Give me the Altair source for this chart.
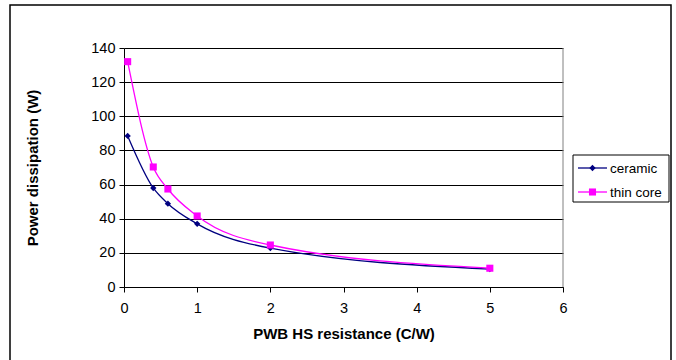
import altair as alt
import pandas as pd

# data
x_vals = [0.05, 0.4, 0.6, 1, 2, 5]
ceramic = [88.5, 58, 48.8, 37, 22.8, 10.5]
thin_core = [132, 70.3, 57.4, 41.6, 24.6, 11]
series_names = ["ceramic", "thin core"]
series_colors = ["#000080", "#FF00FF"]
series_shapes = ["diamond", "square"]
x_ticks = [0, 1, 2, 3, 4, 5, 6]
y_ticks = [0, 20, 40, 60, 80, 100, 120, 140]

rows = []
for name, vals in zip(series_names, [ceramic, thin_core]):
    for xv, yv in zip(x_vals, vals):
        rows.append({"x": xv, "y": yv, "series": name})
df = pd.DataFrame(rows)

W, H = 439, 239
FONT = "Liberation Sans"

xscale = alt.Scale(domain=[0, 6], nice=False, zero=False)
yscale = alt.Scale(domain=[0, 140], nice=False)
color_scale = alt.Scale(domain=series_names, range=series_colors)
shape_scale = alt.Scale(domain=series_names, range=series_shapes)

xaxis = alt.Axis(values=x_ticks, format="d", title="PWB HS resistance (C/W)", grid=False,
                 labelFontSize=14.5, labelFont=FONT, labelColor="#000",
                 titleFontSize=15, titleFont=FONT, titleFontWeight="bold",
                 titleColor="#000", titlePadding=12, labelPadding=9,
                 labelOverlap=False, tickCount=7,
                 tickSize=5, tickColor="#000", domainColor="#000", labelFlush=False)
yaxis = alt.Axis(values=y_ticks, format="d", title="Power dissipation (W)", grid=True,
                 gridColor="#000", gridWidth=1, labelOverlap=False, tickCount=8,
                 labelFontSize=14.5, labelFont=FONT, labelColor="#000",
                 titleFontSize=15, titleFont=FONT, titleFontWeight="bold",
                 titleColor="#000", titleX=-84, titleY=H / 2,
                 tickSize=5, tickColor="#000", domainColor="#000",
                 labelPadding=4, labelFlush=False)

lines = alt.Chart(df).mark_line(interpolate="monotone", strokeWidth=1.3).encode(
    x=alt.X("x:Q", scale=xscale, axis=xaxis),
    y=alt.Y("y:Q", scale=yscale, axis=yaxis),
    color=alt.Color("series:N", scale=color_scale, legend=None),
    detail="series:N",
)
points = alt.Chart(df).mark_point(filled=True, opacity=1).encode(
    x=alt.X("x:Q", scale=xscale, axis=xaxis),
    y=alt.Y("y:Q", scale=yscale, axis=yaxis),
    color=alt.Color("series:N", scale=color_scale, legend=None),
    shape=alt.Shape("series:N", scale=shape_scale, legend=None),
    size=alt.Size("series:N", scale=alt.Scale(domain=series_names, range=[40, 50]), legend=None),
)

# right plot border (gray)
right_border = alt.Chart(pd.DataFrame({"a": [0]})).mark_rule(color="#808080", strokeWidth=1).encode(
    x=alt.value(W), y=alt.value(0), y2=alt.value(H))

# outer chart border
outer = alt.Chart(pd.DataFrame({"a": [0]})).mark_rect(
    fill=None, stroke="#000", strokeWidth=1.5, clip=False).encode(
    x=alt.value(-114), x2=alt.value(547), y=alt.value(-43), y2=alt.value(400))

# manual legend
leg_box = alt.Chart(pd.DataFrame({"a": [0]})).mark_rect(
    fill="white", stroke="#000", strokeWidth=1).encode(
    x=alt.value(449), x2=alt.value(545), y=alt.value(107), y2=alt.value(154))
legend_layers = [leg_box]
for i, (name, col, shp, sz) in enumerate(zip(series_names, series_colors, series_shapes, [40, 50])):
    yy = 120 + 24 * i
    d = pd.DataFrame({"label": [name]})
    legend_layers.append(alt.Chart(d).mark_rule(color=col, strokeWidth=1.3).encode(
        x=alt.value(454), x2=alt.value(483), y=alt.value(yy)))
    legend_layers.append(alt.Chart(d).mark_point(filled=True, opacity=1, color=col, shape=shp, size=sz).encode(
        x=alt.value(468.5), y=alt.value(yy)))
    legend_layers.append(alt.Chart(d).mark_text(align="left", baseline="middle", font=FONT,
                                                fontSize=13.5, color="#000").encode(
        x=alt.value(486), y=alt.value(yy + 1), text="label:N"))

chart = alt.layer(outer, right_border, lines, points, *legend_layers).properties(
    width=W, height=H,
    padding={"left": 124, "top": 48, "right": 676 - 124 - W, "bottom": 360 - 48 - H},
    autosize=alt.AutoSizeParams(type="none"),
    background="white",
).configure_view(stroke=None)

chart.save("out.html", embed_options={"renderer": "svg", "actions": False})
